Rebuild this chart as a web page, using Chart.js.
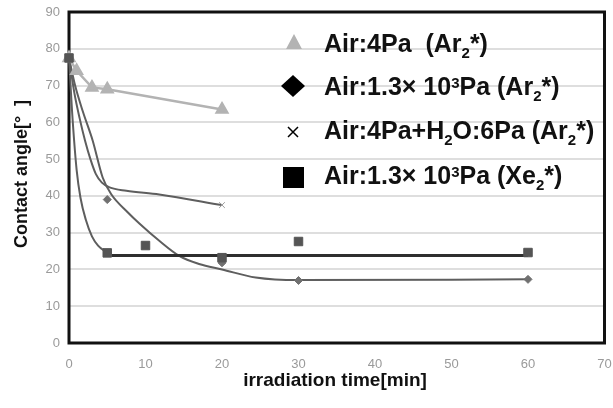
<!DOCTYPE html>
<html>
<head>
<title>Contact angle vs irradiation time</title>
<script src="https://cdn.jsdelivr.net/npm/chart.js@4"></script>
<style>
    body { margin: 0; background: #fff; }
</style>
</head>
<body>
<canvas id="myChart" width="613" height="408"></canvas>
<script>
// axis ranges
const xTicksMax = 70;
const yTicksMax = 90;
const xTitle = 'irradiation time[min]';
const yTitle = 'Contact angle[°  ]';

// markers
const triX = [0, 1, 3, 5, 20];
const triY = [77.5, 74, 69.5, 69, 63.5];
const diaX = [5, 20, 30, 60];
const diaY = [39, 21.8, 17, 17.3];
const crossX = [20];
const crossY = [37.5];
const sqX = [0, 5, 10, 20, 30, 60];
const sqY = [77.5, 24.5, 26.5, 23.2, 27.6, 24.6];

// smoothed lines
const diaCurveX = [0, 0.8, 1.8, 3.1, 4.4, 5.5, 7.7, 9.2, 11.8, 14.4, 17, 20, 24.4, 30, 60];
const diaCurveY = [77.5, 70, 63, 55, 45, 40.5, 35.5, 32.5, 27.8, 23.7, 21.5, 20, 17.8, 17.1, 17.3];
const crossCurveX = [0, 0.7, 1.4, 2.1, 2.8, 3.5, 4.3, 5.3, 7.5, 11.8, 20];
const crossCurveY = [77.5, 68, 61, 55, 50, 46, 43.6, 42.3, 41.4, 40.4, 37.5];
const sqCurveX = [0, 0.4, 1, 1.5, 2.2, 3, 3.8, 5];
const sqCurveY = [77.5, 63, 47, 39.5, 33.5, 29, 26.5, 24.5];
const flatX = [5, 60];
const flatY = [23.8, 23.8];

// legend text pieces: [text, mode]
const legendLabels = [
    [['Air:4Pa  (Ar', ''], ['2', 'sub'], ['*)', '']],
    [['Air:1.3', ''], ['\u00d7', ''], [' 10', ''], ['3', 'sup'], ['Pa (Ar', ''], ['2', 'sub'], ['*)', '']],
    [['Air:4Pa+H', ''], ['2', 'sub'], ['O:6Pa (Ar', ''], ['2', 'sub'], ['*)', '']],
    [['Air:1.3', ''], ['\u00d7', ''], [' 10', ''], ['3', 'sup'], ['Pa (Xe', ''], ['2', 'sub'], ['*)', '']]
];

function pts(xs, ys) {
    return xs.map((x, i) => ({x: x, y: ys[i]}));
}

const FONT = '"Liberation Sans", Arial, sans-serif';

const framePlugin = {
    id: 'frame',
    beforeDatasetsDraw(chart) {
        const a = chart.chartArea;
        const ctx = chart.ctx;
        ctx.save();
        ctx.strokeStyle = '#111';
        ctx.lineWidth = 3;
        ctx.strokeRect(a.left, a.top, a.right - a.left, a.bottom - a.top);
        ctx.restore();
    },
    afterDraw(chart) {
        const ctx = chart.ctx;
        ctx.save();
        ctx.fillStyle = '#111';
        // axis titles
        ctx.font = 'bold 18px ' + FONT;
        ctx.textAlign = 'center';
        ctx.textBaseline = 'middle';
        ctx.save();
        ctx.translate(22, 174);
        ctx.rotate(-Math.PI / 2);
        ctx.fillText(yTitle, 0, 0);
        ctx.restore();
        ctx.font = 'bold 19px ' + FONT;
        ctx.fillText(xTitle, 335, 381);

        // legend
        const bases = [52, 95, 139, 184];
        const mx = 293;
        const tx = 324;
        ctx.textAlign = 'left';
        ctx.textBaseline = 'alphabetic';
        legendLabels.forEach((parts, i) => {
            const base = bases[i];
            let x = tx;
            parts.forEach(p => {
                if (p[1] === 'sub') {
                    ctx.font = 'bold 15px ' + FONT;
                    ctx.fillText(p[0], x, base + 6);
                } else if (p[1] === 'sup') {
                    ctx.font = 'bold 15px ' + FONT;
                    ctx.fillText(p[0], x, base - 7);
                } else {
                    ctx.font = 'bold 25px ' + FONT;
                    ctx.fillText(p[0], x, base);
                }
                x += ctx.measureText(p[0]).width;
            });
        });
        // legend markers
        const cy = [42, 86, 132, 177];
        ctx.fillStyle = '#b3b3b3';
        ctx.beginPath();
        ctx.moveTo(mx + 1, cy[0] - 8);
        ctx.lineTo(mx + 9, cy[0] + 7);
        ctx.lineTo(mx - 7, cy[0] + 7);
        ctx.closePath();
        ctx.fill();
        ctx.fillStyle = '#000';
        ctx.beginPath();
        ctx.moveTo(mx, cy[1] - 11);
        ctx.lineTo(mx + 12, cy[1]);
        ctx.lineTo(mx, cy[1] + 11);
        ctx.lineTo(mx - 12, cy[1]);
        ctx.closePath();
        ctx.fill();
        ctx.strokeStyle = '#000';
        ctx.lineWidth = 1.5;
        ctx.beginPath();
        ctx.moveTo(mx - 5, cy[2] - 5);
        ctx.lineTo(mx + 5, cy[2] + 5);
        ctx.moveTo(mx + 5, cy[2] - 5);
        ctx.lineTo(mx - 5, cy[2] + 5);
        ctx.stroke();
        ctx.fillRect(mx - 10, cy[3] - 10, 21, 21);
        ctx.restore();
    }
};

const lineStyle = {showLine: true, pointRadius: 0, borderColor: '#5e5e5e', borderWidth: 2, cubicInterpolationMode: 'monotone'};

const ctx = document.getElementById('myChart').getContext('2d');
const chart = new Chart(ctx, {
    type: 'scatter',
    data: {
        datasets: [
            {
                data: pts(sqX, sqY),
                pointStyle: 'rect', pointRadius: 6, backgroundColor: '#555', borderColor: '#555',
                showLine: false
            },
            {
                data: pts(diaX, diaY),
                pointStyle: 'rectRot', pointRadius: 4, backgroundColor: '#707070', borderColor: '#707070',
                showLine: false
            },
            {
                data: pts(crossX, crossY),
                pointStyle: 'crossRot', pointRadius: 4, borderColor: '#999', borderWidth: 1,
                showLine: false
            },
            {
                data: pts(triX, triY),
                pointStyle: 'triangle', pointRadius: 6, backgroundColor: '#b3b3b3', borderColor: '#b3b3b3',
                showLine: true, borderWidth: 2.5, tension: 0
            },
            Object.assign({data: pts(flatX, flatY)}, lineStyle, {borderColor: '#2e2e2e', borderWidth: 3}),
            Object.assign({data: pts(sqCurveX, sqCurveY)}, lineStyle),
            Object.assign({data: pts(crossCurveX, crossCurveY)}, lineStyle),
            Object.assign({data: pts(diaCurveX, diaCurveY)}, lineStyle)
        ]
    },
    options: {
        responsive: false,
        animation: false,
        devicePixelRatio: 1,
        layout: {padding: {top: 12, right: 7, left: 0, bottom: 0}},
        plugins: {legend: {display: false}, tooltip: {enabled: false}},
        elements: {point: {hoverRadius: 0}},
        clip: false,
        scales: {
            x: {
                type: 'linear', min: 0, max: xTicksMax,
                ticks: {stepSize: 10, color: '#9a9a9a', font: {size: 13, family: FONT}, padding: 14, maxRotation: 0},
                grid: {display: false, drawTicks: false},
                border: {display: false},
                afterFit(s) { s.height = 65; s.paddingLeft = 0; s.paddingRight = 0; }
            },
            y: {
                min: 0, max: yTicksMax,
                ticks: {stepSize: 10, color: '#9a9a9a', font: {size: 13, family: FONT}, padding: 9},
                grid: {color: '#dedede', lineWidth: 2, drawTicks: false},
                border: {display: false},
                afterFit(s) { s.width = 69; s.paddingTop = 0; s.paddingBottom = 0; }
            }
        }
    },
    plugins: [framePlugin]
});
</script>
</body>
</html>
